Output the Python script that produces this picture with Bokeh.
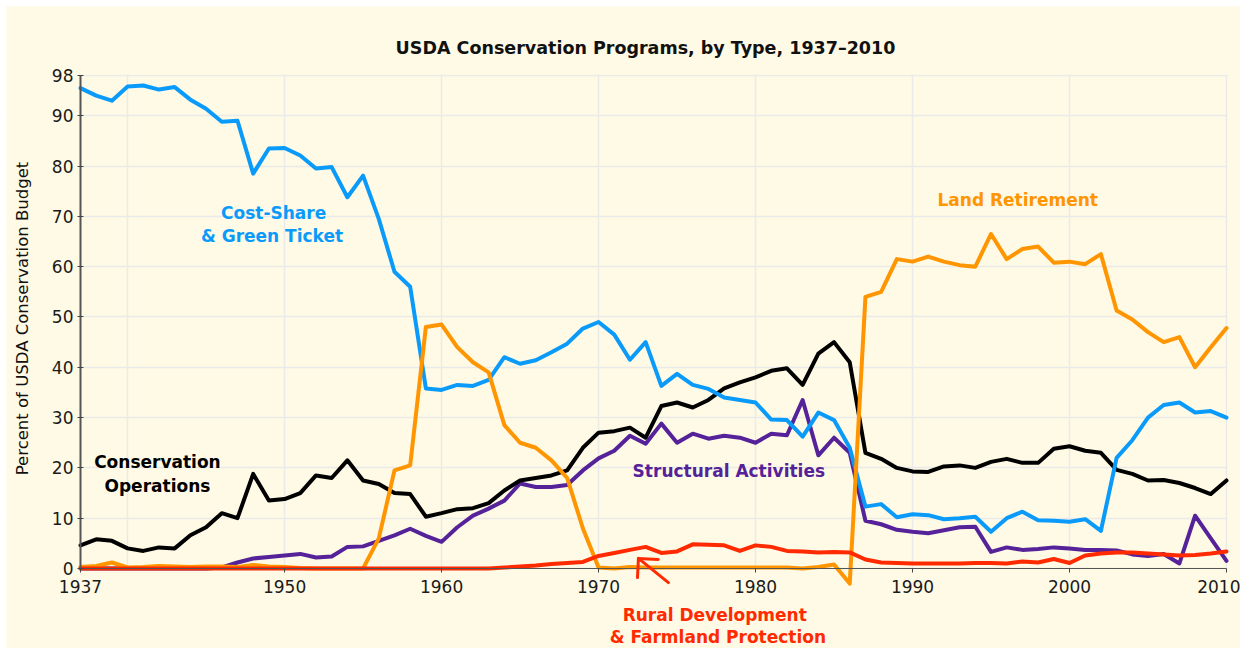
import math
from bokeh.plotting import figure
from bokeh.models import FixedTicker, Label, Arrow, Range1d, BoxAnnotation
from bokeh.embed import file_html
from bokeh.resources import INLINE

years = [1937, 1938, 1939, 1940, 1941, 1942, 1943, 1944, 1945, 1946,
         1947, 1948, 1949, 1950, 1951, 1952, 1953, 1954, 1955, 1956,
         1957, 1958, 1959, 1960, 1961, 1962, 1963, 1964, 1965, 1966,
         1967, 1968, 1969, 1970, 1971, 1972, 1973, 1974, 1975, 1976,
         1977, 1978, 1979, 1980, 1981, 1982, 1983, 1984, 1985, 1986,
         1987, 1988, 1989, 1990, 1991, 1992, 1993, 1994, 1995, 1996,
         1997, 1998, 1999, 2000, 2001, 2002, 2003, 2004, 2005, 2006,
         2007, 2008, 2009, 2010]

cost_share = [95.5, 94.0, 93.0, 95.8, 96.0, 95.2, 95.7, 93.2, 91.4, 88.8,
              89.0, 78.5, 83.5, 83.6, 82.1, 79.5, 79.8, 73.8, 78.1, 69.5,
              59.0, 56.0, 35.8, 35.5, 36.5, 36.3, 37.5, 42.0, 40.7, 41.4,
              43.0, 44.7, 47.7, 49.0, 46.5, 41.5, 45.0, 36.3, 38.7, 36.5,
              35.7, 34.0, 33.5, 33.0, 29.6, 29.5, 26.2, 31.0, 29.5, 24.0,
              12.3, 12.8, 10.2, 10.8, 10.6, 9.8, 10.0, 10.3, 7.3, 10.0,
              11.3, 9.6, 9.5, 9.3, 9.8, 7.5, 22.0, 25.5, 30.0, 32.5,
              33.0, 31.0, 31.3, 30.0]

land_retirement = [0.3, 0.5, 1.2, 0.2, 0.3, 0.5, 0.4, 0.3, 0.4, 0.4,
                   0.3, 0.7, 0.4, 0.3, 0.1, 0.0, 0.0, 0.0, 0.0, 6.0,
                   19.5, 20.5, 48.0, 48.5, 44.0, 41.0, 39.0, 28.5, 25.0, 24.0,
                   21.5, 18.0, 8.0, 0.2, 0.0, 0.3, 0.2, 0.2, 0.2, 0.2,
                   0.2, 0.2, 0.2, 0.2, 0.2, 0.2, 0.0, 0.3, 0.8, -3.0,
                   54.0, 55.0, 61.5, 61.0, 62.0, 61.0, 60.3, 60.0, 66.5, 61.5,
                   63.5, 64.0, 60.8, 61.0, 60.5, 62.5, 51.3, 49.5, 47.0, 45.0,
                   46.0, 40.0, 44.0, 47.8]

conservation_ops = [4.6, 5.8, 5.5, 4.0, 3.5, 4.2, 4.0, 6.6, 8.2, 11.0,
                    10.0, 18.8, 13.5, 13.8, 15.0, 18.5, 18.0, 21.5, 17.5, 16.8,
                    15.0, 14.8, 10.3, 11.0, 11.8, 12.0, 13.0, 15.5, 17.5, 18.0,
                    18.5, 19.5, 24.0, 27.0, 27.3, 28.0, 26.0, 32.3, 33.0, 32.0,
                    33.5, 35.8, 37.0, 38.0, 39.3, 39.8, 36.5, 42.7, 45.0, 41.0,
                    23.0, 21.8, 20.0, 19.3, 19.2, 20.3, 20.5, 20.0, 21.2, 21.8,
                    21.0, 21.0, 23.8, 24.3, 23.4, 23.0, 19.6, 18.8, 17.5, 17.6,
                    17.0, 16.0, 14.8, 17.5]

structural = [0.0, 0.0, 0.0, 0.0, 0.0, 0.0, 0.0, 0.0, 0.0, 0.2,
              1.2, 2.0, 2.3, 2.6, 2.9, 2.2, 2.4, 4.3, 4.4, 5.5,
              6.6, 7.9, 6.5, 5.3, 8.2, 10.5, 11.9, 13.5, 16.9, 16.2,
              16.2, 16.6, 19.5, 21.9, 23.4, 26.4, 24.8, 28.8, 25.0, 26.8,
              25.8, 26.4, 26.0, 25.0, 26.8, 26.5, 33.5, 22.5, 26.0, 23.0,
              9.5, 8.8, 7.7, 7.3, 7.0, 7.6, 8.2, 8.3, 3.3, 4.2,
              3.7, 3.9, 4.2, 4.0, 3.7, 3.7, 3.6, 2.8, 2.5, 2.9,
              1.0, 10.5, 6.0, 1.5]

rural_dev = [0.0, 0.0, 0.0, 0.0, 0.0, 0.0, 0.0, 0.0, 0.0, 0.0,
             0.0, 0.0, 0.0, 0.0, 0.0, 0.0, 0.0, 0.0, 0.0, 0.0,
             0.0, 0.0, 0.0, 0.0, 0.0, 0.0, 0.0, 0.2, 0.4, 0.6,
             0.9, 1.1, 1.3, 2.5, 3.1, 3.7, 4.3, 3.1, 3.4, 4.8,
             4.7, 4.6, 3.5, 4.6, 4.3, 3.5, 3.4, 3.2, 3.3, 3.2,
             1.8, 1.2, 1.1, 1.0, 1.0, 1.0, 1.0, 1.1, 1.1, 1.0,
             1.4, 1.2, 1.9, 1.1, 2.6, 3.0, 3.2, 3.2, 3.0, 2.8,
             2.6, 2.7, 3.0, 3.4]

x_tick_labels = [1937, 1950, 1960, 1970, 1980, 1990, 2000, 2010]
x_grid_ticks = [1940, 1950, 1960, 1970, 1980, 1990, 2000, 2010]
y_ticks = [0, 10, 20, 30, 40, 50, 60, 70, 80, 90, 98]

BG = "#FFFAE5"
BLUE = "#0A9BFA"
ORANGE = "#FF9500"
BLACK = "#000000"
PURPLE = "#552299"
RED = "#FF2A00"
FONT = "DejaVu Sans"

X0, X1 = 1937, 2010
Y0, Y1 = 0, 98

p = figure(width=1234, height=642, output_backend="svg", toolbar_location=None,
           title=None,
           x_range=Range1d(1932.286, 2010.892), y_range=Range1d(-15.9, 111.715),
           min_border_left=0, min_border_right=0, min_border_top=0,
           min_border_bottom=0)
p.margin = (6, 0, 0, 6)
p.background_fill_color = BG
p.border_fill_color = BG
p.outline_line_color = None

p.xaxis.ticker = FixedTicker(ticks=x_tick_labels)
p.yaxis.ticker = FixedTicker(ticks=y_ticks)
p.xgrid.ticker = FixedTicker(ticks=x_grid_ticks)
p.ygrid.ticker = FixedTicker(ticks=y_ticks)
for g in (p.xgrid, p.ygrid):
    g.grid_line_color = "#EAEAEA"
    g.grid_line_width = 1.5

# keep the grid inside the 1937-2010 x 0-98 plotting box
for kw in (dict(top=Y0), dict(bottom=Y1 + 0.15), dict(right=X0), dict(left=X1 + 0.06)):
    p.add_layout(BoxAnnotation(fill_color=BG, fill_alpha=1.0, line_alpha=0,
                               level="underlay", **kw))

for ax in (p.xaxis, p.yaxis):
    ax.major_label_text_font = FONT
    ax.major_label_text_font_size = "17px"
    ax.major_label_text_color = "#1A1A1A"
    ax.minor_tick_line_color = None
    ax.axis_line_color = "#555555"
    ax.major_tick_line_color = "#444444"

p.xaxis.fixed_location = Y0
p.xaxis.bounds = (X0, X1)
p.xaxis.axis_line_width = 1.2
p.xaxis.major_tick_out = 4
p.xaxis.major_tick_in = 0
p.xaxis.major_label_standoff = 7
p.yaxis.fixed_location = X0
p.yaxis.bounds = (Y0, Y1)
p.yaxis.axis_line_width = 2
p.yaxis.major_tick_out = 3
p.yaxis.major_tick_in = 3
p.yaxis.major_label_standoff = 4

p.add_layout(Label(x=1972.99, y=103.56,
                   text="USDA Conservation Programs, by Type, 1937\u20132010",
                   text_align="center", text_baseline="middle",
                   text_font=FONT, text_font_size="17.5px",
                   text_font_style="bold", text_color="#111111"))

p.add_layout(Label(x=1933.31, y=49.7, text="Percent of USDA Conservation Budget",
                   angle=math.pi / 2, text_align="center", text_baseline="middle",
                   text_font=FONT, text_font_size="16.5px", text_color="#111111"))

series = [
    (structural, PURPLE),
    (conservation_ops, BLACK),
    (cost_share, BLUE),
    (land_retirement, ORANGE),
    (rural_dev, RED),
]
for vals, col in series:
    p.line(years, vals, line_color=col, line_width=4,
           line_join="round", line_cap="round")

def lab(x, y, text, color):
    p.add_layout(Label(x=x, y=y, text=text, text_align="center",
                       text_baseline="middle", text_font=FONT,
                       text_font_style="bold", text_font_size="17px",
                       text_color=color))

lab(1949.3, 70.6, "Cost-Share", BLUE)
lab(1949.2, 66.0, "& Green Ticket", BLUE)
lab(1996.7, 73.2, "Land Retirement", ORANGE)
lab(1941.9, 21.1, "Conservation", BLACK)
lab(1941.9, 16.5, "Operations", BLACK)
lab(1978.3, 19.3, "Structural Activities", PURPLE)
lab(1977.4, -9.3, "Rural Development", RED)
lab(1977.6, -13.7, "& Farmland Protection", RED)

tip_x, tip_y = 1972.54, 2.0
for (sx, sy) in [(1974.45, -2.8), (1972.48, -1.8), (1973.8, 1.8)]:
    p.add_layout(Arrow(end=None, x_start=sx, y_start=sy, x_end=tip_x, y_end=tip_y,
                       line_color=RED, line_width=3, line_cap="round"))

open("out.html", "w").write(file_html(p, INLINE))
